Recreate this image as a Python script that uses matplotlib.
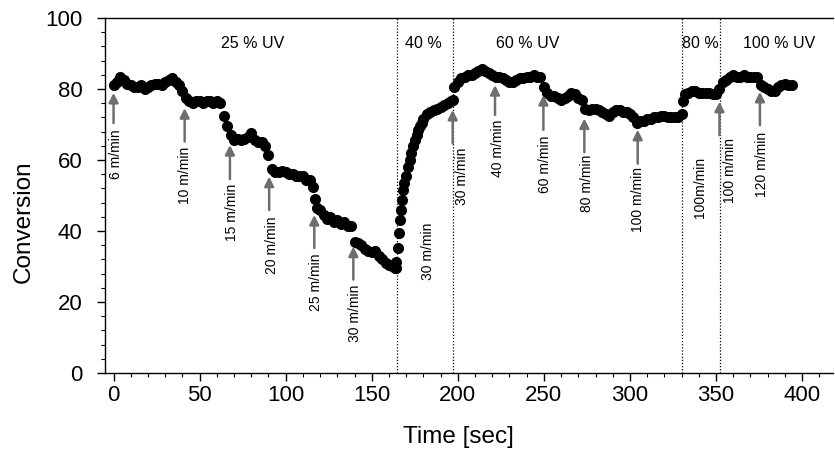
import matplotlib
matplotlib.use("Agg")
import matplotlib.pyplot as plt
from matplotlib.ticker import MultipleLocator

plt.rcParams['font.family'] = ['Liberation Sans', 'DejaVu Sans']

# ---- data ----
time_a = [0, 2, 4, 6, 8, 10, 12, 14, 16, 18, 20, 22, 24, 26, 28, 30, 32, 34, 36, 38,
          40, 42, 44, 46, 48, 50, 52, 54, 56, 58, 60, 62, 64, 66, 68, 70, 72, 74, 76, 78,
          80, 82, 84, 86, 88, 90, 92, 94, 96, 98, 100, 102, 104, 106, 108, 110, 112, 114, 116, 117,
          118, 120, 122, 124, 126, 128, 130, 132, 134, 136, 138, 140, 142, 144, 146, 148, 150, 152, 154, 156,
          158, 160, 162, 163.5]
conv_a = [81, 82, 83.5, 82.5, 81.5, 81, 80.5, 80.5, 81, 80, 80.5, 81, 81.5, 81.5, 81, 82, 82.5, 83, 82, 81,
          79.5, 77.5, 76.5, 76, 76.5, 76.5, 76, 76.5, 76.5, 76, 76.5, 76, 72.5, 69.5, 67, 65.5, 66, 65.5, 66, 66.5,
          67.5, 65.5, 65, 65, 64, 61.5, 57.5, 56.5, 56.5, 57, 56.5, 56, 56, 55.5, 55.5, 55.5, 54.5, 54.5, 52.5, 49,
          46.5, 46, 44.5, 43.5, 44, 42.5, 43, 42, 42.5, 41.5, 41.5, 37, 36.5, 36, 35, 34.5, 34, 34.5, 33, 32,
          31, 30.5, 30, 29.5]

time_b = [164.0, 164.3, 165.0, 165.7, 166.4, 167.0, 167.6, 168.2, 169, 170, 171, 172, 173, 174, 175, 176,
          177, 178, 179, 180, 182, 184, 186, 188, 190, 192, 194, 196, 197]
conv_b = [29.5, 31.4, 35.1, 39.4, 43.1, 45.9, 48.7, 51.5, 53.5, 55.5, 58, 60, 62, 64, 65.5, 67,
          68.5, 69.5, 70.5, 71.5, 73, 73.5, 74, 74.5, 75, 75.5, 76, 76.5, 77]

time_c = [198, 200, 202, 204, 206, 208, 210, 212, 214, 216, 218, 220, 222, 224, 226, 228, 230, 232, 234, 236,
          238, 240, 242, 244, 246, 248, 250, 252, 254, 256, 258, 260, 262, 264, 266, 268, 270, 272, 274, 276,
          278, 280, 282, 284, 286, 288, 290, 292, 294, 296, 298, 300, 302, 304, 306, 308, 310, 312, 314, 316,
          318, 320, 322, 324, 326, 328, 330, 331, 332, 334, 336, 338, 340, 342, 344, 346, 348, 350, 352, 354,
          356, 358, 360, 362, 364, 366, 368, 370, 372, 374, 376, 378, 380, 382, 384, 386, 388, 390, 392, 394]
conv_c = [80.5, 82, 83, 83.5, 84, 84, 84.5, 85, 85.5, 85, 84.5, 84, 83.5, 83.5, 83, 82.5, 82, 82, 82.5, 83,
          83, 83.5, 83.5, 84, 83.5, 83.5, 80.5, 79, 78, 78, 77.5, 77, 77.5, 78, 79, 78.5, 77.5, 77, 74.5, 74,
          74.5, 74.5, 74, 73.5, 73, 72.5, 73.5, 74, 74, 73.5, 73.5, 73, 72, 70.5, 71, 71, 71.5, 71.5, 72, 72,
          72.5, 72.5, 72, 72, 72, 72, 73, 76.5, 78.5, 79, 79.5, 79.5, 79, 79, 79, 79, 78.5, 78.5, 80, 82,
          82.5, 83.5, 84, 83.5, 83.5, 84, 83.5, 83.5, 83.5, 83.5, 81, 80.5, 80, 79.5, 79.5, 80.5, 81, 81.5, 81, 81]

time = time_a + time_b + time_c
conversion = conv_a + conv_b + conv_c

# UV power boundaries and labels
boundaries = [164.7, 197.2, 330.3, 352.4]
uv_labels = ["25 % UV", "40 %", "60 % UV", "80 %", "100 % UV"]
uv_x = [80.6, 180.0, 240.6, 341.0, 386.7]
uv_y = 92.7

# speed annotations: arrow x, arrow head y, arrow tail y, text x, text top y
speed_labels = ["6 m/min", "10 m/min", "15 m/min", "20 m/min", "25 m/min", "30 m/min",
                "30 m/min", "30 m/min", "40 m/min", "60 m/min", "80 m/min", "100 m/min",
                "100m/min", "100 m/min", "120 m/min"]
arrow_x = [0.0, 41.3, 67.6, 90.4, 116.6, 139.3, None, 197.0, 221.6, 249.7, 273.5, 304.5, None, 352.0, 375.5]
arrow_head = [78.9, 74.6, 64.2, 55.3, 44.5, 35.6, None, 74.1, 81.1, 78.3, 71.7, 68.5, None, 76.4, 79.2]
arrow_tail = [70.4, 65.2, 54.6, 45.9, 35.2, 26.3, None, 64.7, 72.7, 68.5, 62.2, 59.0, None, 67.0, 69.8]
text_x = [1.2, 41.5, 68.6, 91.9, 117.6, 140.3, 182.9, 202.3, 223.4, 250.7, 274.9, 304.7, 340.7, 358.2, 376.6]
text_top = [68.5, 63.7, 53.2, 44.0, 33.8, 24.8, 42.3, 63.4, 71.3, 67.0, 61.4, 58.0, 60.9, 66.2, 67.9]

# ---- figure ----
fig = plt.figure(figsize=(8.35, 4.58), dpi=100)
ax = fig.add_axes([0.1257, 0.1856, 0.872, 0.7751])

ax.plot(time, conversion, linestyle='none', marker='o', markersize=8,
        color='black', markeredgewidth=0, zorder=3)

for b in boundaries:
    ax.axvline(b, color='black', linestyle=(0, (1, 1.5)), linewidth=0.9, zorder=1)

for lab, x in zip(uv_labels, uv_x):
    ax.text(x, uv_y, lab, ha='center', va='center', fontsize=11.5)

arrow_color = '#6e6e6e'
for lab, ax_x, hd, tl, tx, tt in zip(speed_labels, arrow_x, arrow_head, arrow_tail, text_x, text_top):
    if ax_x is not None:
        ax.annotate('', xy=(ax_x, hd), xytext=(ax_x, tl),
                    arrowprops=dict(arrowstyle='-|>,head_length=0.55,head_width=0.28',
                                    color=arrow_color, lw=1.8,
                                    shrinkA=0, shrinkB=0), zorder=4)
    ax.text(tx, tt, lab, rotation=90, ha='center', va='top', fontsize=10)

ax.set_xlim(-5, 418)
ax.set_ylim(0, 100)
ax.xaxis.set_major_locator(MultipleLocator(50))
ax.xaxis.set_minor_locator(MultipleLocator(10))
ax.yaxis.set_major_locator(MultipleLocator(20))
ax.yaxis.set_minor_locator(MultipleLocator(4))
ax.tick_params(which='major', direction='out', length=6, width=1, labelsize=16)
ax.tick_params(axis='x', which='major', pad=3)
ax.tick_params(axis='y', which='major', pad=10)
ax.tick_params(which='minor', direction='out', length=3, width=0.8)
ax.spines['right'].set_visible(False)
for s in ['left', 'bottom', 'top']:
    ax.spines[s].set_linewidth(1.0)

ax.set_xlabel('Time [sec]', fontsize=17.5)
ax.xaxis.set_label_coords(0.485, -0.15)
ax.set_ylabel('Conversion', fontsize=17.5)
ax.yaxis.set_label_coords(-0.096, 0.425)

fig.savefig('out.png', dpi=100)
